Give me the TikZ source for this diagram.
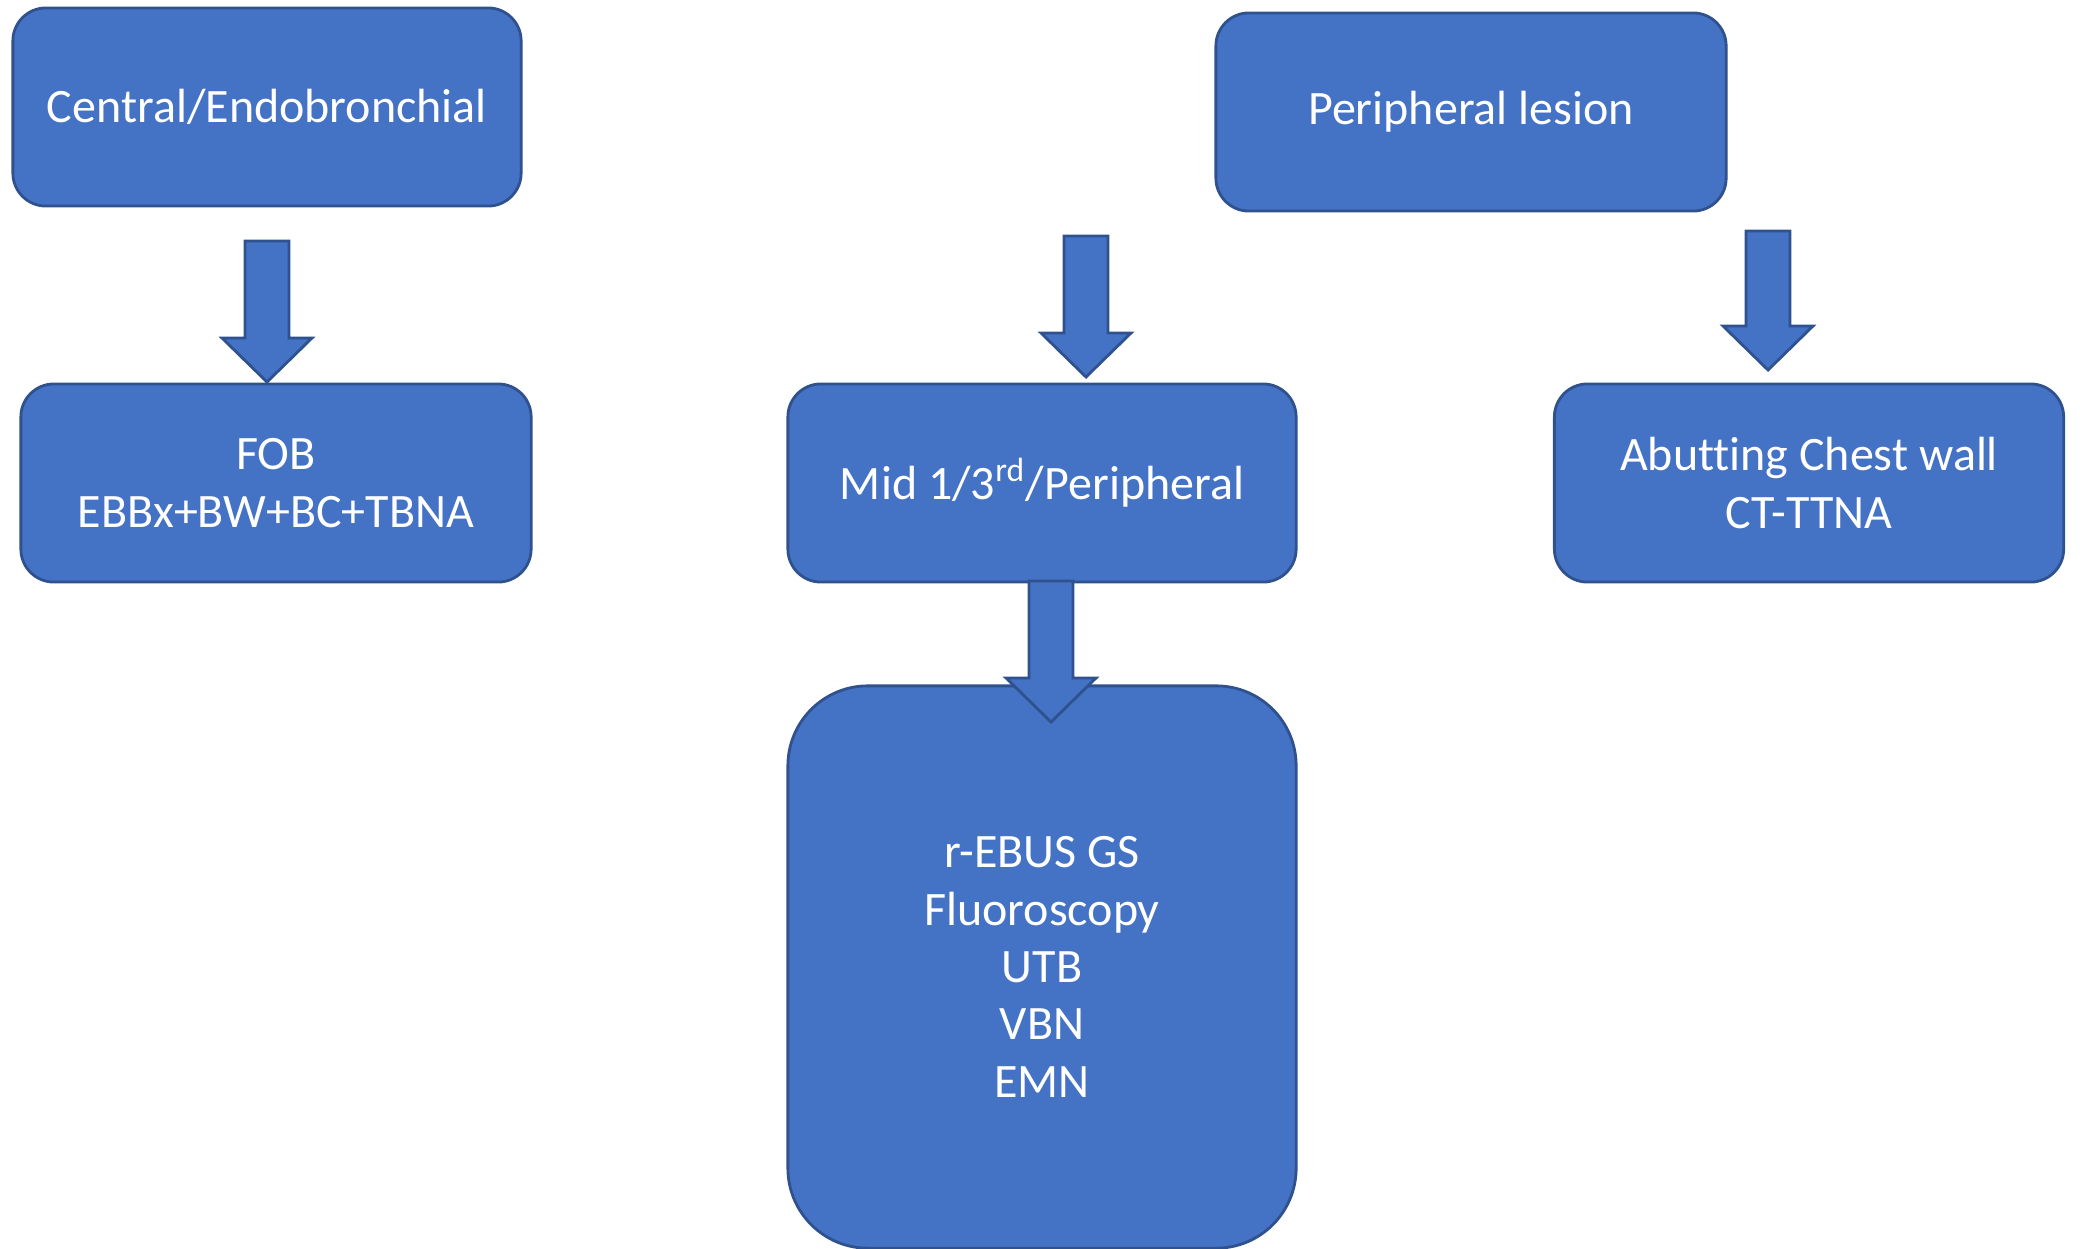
\documentclass[tikz,border=0pt]{standalone}
\usepackage{fontspec}
\setmainfont{Carlito}[Ligatures=NoCommon]
\usetikzlibrary{calc}
\definecolor{boxblue}{RGB}{68,114,196}
\definecolor{edgeblue}{RGB}{47,82,143}
\def\blockarrow(#1)(#2){\draw[arr] ($(#1)+(-22,0)$) -- ($(#2)+(-22,44)$) -- ($(#2)+(-45,44)$) -- (#2) -- ($(#2)+(45,44)$) -- ($(#2)+(22,44)$) -- ($(#1)+(22,0)$) -- cycle;}
\tikzset{
	box/.style={draw=edgeblue, fill=boxblue, line width=0.8pt, rounded corners=0.33cm, text=white, align=center,
		minimum width=5.08cm, minimum height=1.98cm, inner sep=0pt, font=\fontsize{13.65}{16.3}\selectfont},
	arr/.style={draw=edgeblue, fill=boxblue, line width=0.8pt, line join=miter}
}

\begin{document}
\begin{tikzpicture}[x=0.01cm, y=0.01cm]
		%%%%% START %%%%%
		\useasboundingbox (0, 0) rectangle (2080, -1248);
		
		\node[box] (central) at (267, -107) {Central/Endobronchial};
		\node[box, minimum width=5.1cm] (periph) at (1471, -112) {Peripheral lesion};
		
		\node[box, minimum width=5.1cm] (fob) at (276, -483) {FOB\\EBBx+BW+BC+TBNA};
		\node[box] (mid) at (1042, -483) {Mid 1/3\textsuperscript{rd}/Peripheral};
		\node[box, minimum width=5.09cm] (abut) at (1809, -483) {Abutting Chest wall\\CT-TTNA};
		
		\node[box, minimum height=5.62cm, rounded corners=0.8cm] (guided) at (1042, -967)
			{r-EBUS GS\\Fluoroscopy\\UTB\\VBN\\EMN};
		
		% block arrows
		\coordinate (a1) at (267, -241);   \coordinate (b1) at (267, -382);
		\coordinate (a2) at (1086, -236);  \coordinate (b2) at (1086, -377);
		\coordinate (a3) at (1768, -231);  \coordinate (b3) at (1768, -370);
		\coordinate (a4) at (1051, -581);  \coordinate (b4) at (1051, -722);
		
		\blockarrow(a1)(b1);
		\blockarrow(a2)(b2);
		\blockarrow(a3)(b3);
		\blockarrow(a4)(b4);
		
		%%%%% END %%%%%
	\end{tikzpicture}
\end{document}
